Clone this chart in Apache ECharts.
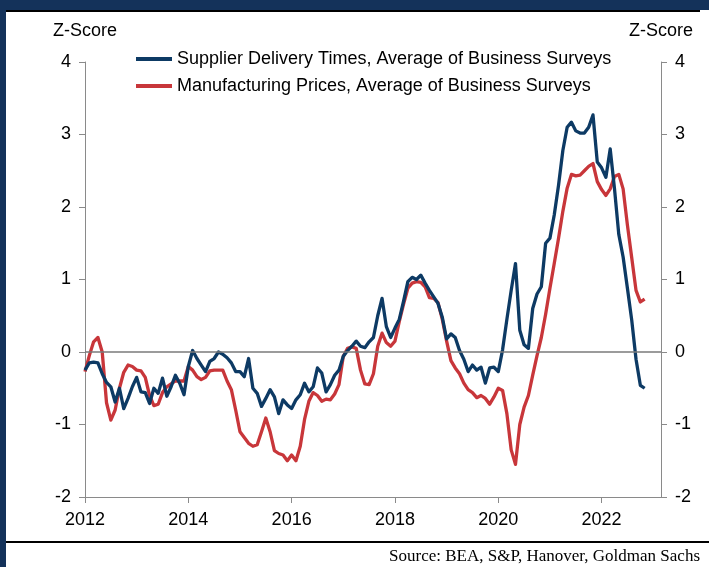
<!DOCTYPE html>
<html>
<head>
<meta charset="utf-8">
<title>Z-Score chart</title>
<script src="https://cdn.jsdelivr.net/npm/echarts@6/dist/echarts.min.js"></script>
<style>
    html, body { margin: 0; padding: 0; background: #fff; }
    #main { width: 709px; height: 567px; }
</style>
</head>
<body>
<div id="main"></div>
<script>
// monthly data, Jan 2012 .. Nov 2022
const startYear = 2012
const yearTicks = [2012, 2014, 2016, 2018, 2020, 2022]

const supplierDelivery = [
    -0.25, -0.15, -0.14, -0.15, -0.30, -0.42, -0.48, -0.69, -0.50, -0.78, -0.64, -0.48,
    -0.35, -0.55, -0.56, -0.71, -0.50, -0.57, -0.36, -0.61, -0.48, -0.32, -0.43, -0.59,
    -0.20, 0.02, -0.09, -0.18, -0.27, -0.13, -0.09, 0.00, -0.03, -0.08, -0.15, -0.27,
    -0.27, -0.34, -0.09, -0.50, -0.57, -0.75, -0.64, -0.52, -0.62, -0.85, -0.66, -0.73,
    -0.78, -0.66, -0.59, -0.43, -0.55, -0.48, -0.22, -0.29, -0.55, -0.45, -0.32, -0.25,
    -0.06, 0.02, 0.08, 0.15, 0.08, 0.06, 0.14, 0.20, 0.50, 0.74, 0.35, 0.20,
    0.33, 0.45, 0.70, 0.97, 1.03, 1.00, 1.06, 0.95, 0.85, 0.76, 0.67, 0.48,
    0.18, 0.25, 0.20, 0.02, -0.10, -0.27, -0.18, -0.25, -0.21, -0.43, -0.22, -0.21,
    -0.27, 0.03, 0.45, 0.85, 1.22, 0.30, 0.10, 0.05, 0.60, 0.80, 0.90, 1.50,
    1.57, 1.89, 2.30, 2.78, 3.10, 3.17, 3.05, 3.02, 3.02, 3.10, 3.27, 2.62,
    2.54, 2.41, 2.80, 2.25, 1.62, 1.31, 0.88, 0.44, -0.10, -0.46, -0.50
]

const manufacturingPrices = [
    -0.27, -0.05, 0.14, 0.20, 0.00, -0.70, -0.94, -0.80, -0.50, -0.28, -0.18, -0.20,
    -0.25, -0.26, -0.35, -0.60, -0.74, -0.72, -0.56, -0.48, -0.44, -0.40, -0.40, -0.40,
    -0.20, -0.25, -0.34, -0.38, -0.35, -0.26, -0.25, -0.25, -0.25, -0.40, -0.52, -0.80,
    -1.10, -1.18, -1.26, -1.30, -1.28, -1.10, -0.91, -1.10, -1.36, -1.40, -1.42, -1.50,
    -1.42, -1.50, -1.30, -0.93, -0.68, -0.56, -0.60, -0.68, -0.65, -0.66, -0.58, -0.45,
    -0.06, 0.05, 0.07, 0.05, -0.25, -0.44, -0.45, -0.30, 0.08, 0.26, 0.13, 0.08,
    0.15, 0.42, 0.66, 0.88, 0.95, 0.97, 0.96, 0.90, 0.75, 0.74, 0.68, 0.45,
    0.15, -0.12, -0.22, -0.30, -0.43, -0.52, -0.56, -0.63, -0.60, -0.64, -0.72, -0.62,
    -0.50, -0.53, -0.85, -1.35, -1.55, -1.00, -0.76, -0.60, -0.32, -0.05, 0.20, 0.52,
    0.88, 1.22, 1.57, 1.94, 2.26, 2.45, 2.43, 2.44, 2.50, 2.56, 2.60, 2.35,
    2.24, 2.16, 2.25, 2.42, 2.45, 2.25, 1.75, 1.30, 0.85, 0.69, 0.73
]

const seriesNames = [
    'Supplier Delivery Times, Average of Business Surveys',
    'Manufacturing Prices, Average of Business Surveys'
]

const FONT = '"Liberation Sans", Arial, sans-serif'
const AXIS_GRAY = '#8a8a8a'

// x as decimal year
function toPoints(arr) {
    return arr.map((v, i) => [startYear + i / 12, v])
}

const chart = echarts.init(document.getElementById('main'))

const yAxisBase = {
    type: 'value',
    min: -2,
    max: 4,
    interval: 1,
    splitLine: { show: false },
    axisLine: { show: true, lineStyle: { color: AXIS_GRAY, width: 1 } },
    axisTick: { show: true, length: 6, lineStyle: { color: AXIS_GRAY } },
    axisLabel: { color: '#000', fontFamily: FONT, fontSize: 18, margin: 14 },
    name: 'Z-Score',
    nameLocation: 'end',
    nameGap: 22,
    nameTextStyle: { color: '#000', fontFamily: FONT, fontSize: 18, align: 'center' }
}

chart.setOption({
    animation: false,
    backgroundColor: '#fff',
    grid: { left: 85, right: 48, top: 62, bottom: 70 },
    legend: {
        orient: 'vertical',
        left: 131,
        top: 45,
        itemWidth: 36,
        itemHeight: 4,
        itemGap: 9,
        icon: 'rect',
        textStyle: { color: '#000', fontFamily: FONT, fontSize: 18 },
        data: seriesNames
    },
    xAxis: {
        type: 'value',
        min: startYear,
        max: 2023.15,
        interval: 2,
        splitLine: { show: false },
        axisLine: { show: true, onZero: false, lineStyle: { color: AXIS_GRAY } },
        axisTick: { show: true, length: 6, lineStyle: { color: AXIS_GRAY } },
        axisLabel: {
            color: '#000',
            fontFamily: FONT,
            fontSize: 18,
            margin: 14,
            showMaxLabel: false,
            formatter: (v) => (yearTicks.includes(Math.round(v)) && Math.abs(v - Math.round(v)) < 1e-6 ? String(Math.round(v)) : '')
        }
    },
    yAxis: [
        Object.assign({}, yAxisBase, { position: 'left' }),
        Object.assign({}, yAxisBase, { position: 'right' })
    ],
    series: [
        {
            name: seriesNames[0],
            type: 'line',
            data: toPoints(supplierDelivery),
            showSymbol: false,
            color: '#0d3a64',
            lineStyle: { width: 3.3, color: '#0d3a64', join: 'round' },
            z: 3,
            markLine: {
                silent: true,
                symbol: 'none',
                label: { show: false },
                lineStyle: { color: '#7a7a7a', width: 1.5, type: 'solid' },
                data: [{ yAxis: 0 }]
            }
        },
        {
            name: seriesNames[1],
            type: 'line',
            data: toPoints(manufacturingPrices),
            showSymbol: false,
            color: '#c8363a',
            lineStyle: { width: 3.3, color: '#c8363a', join: 'round' },
            z: 2
        }
    ],
    graphic: [
        // page frame bits around the chart
        { type: 'rect', shape: { x: 0, y: 0, width: 709, height: 10 }, style: { fill: '#14325a' } },
        { type: 'rect', shape: { x: 0, y: 0, width: 6, height: 567 }, style: { fill: '#14325a' } },
        { type: 'rect', shape: { x: 6, y: 10, width: 694, height: 2 }, style: { fill: '#000' } },
        { type: 'rect', shape: { x: 6, y: 541, width: 703, height: 2 }, style: { fill: '#000' } },
        {
            type: 'text',
            right: 9,
            top: 548,
            style: {
                text: 'Source: BEA, S&P, Hanover, Goldman Sachs',
                fill: '#000',
                font: '17px "Liberation Serif", "Times New Roman", serif'
            }
        }
    ]
})
</script>
</body>
</html>
